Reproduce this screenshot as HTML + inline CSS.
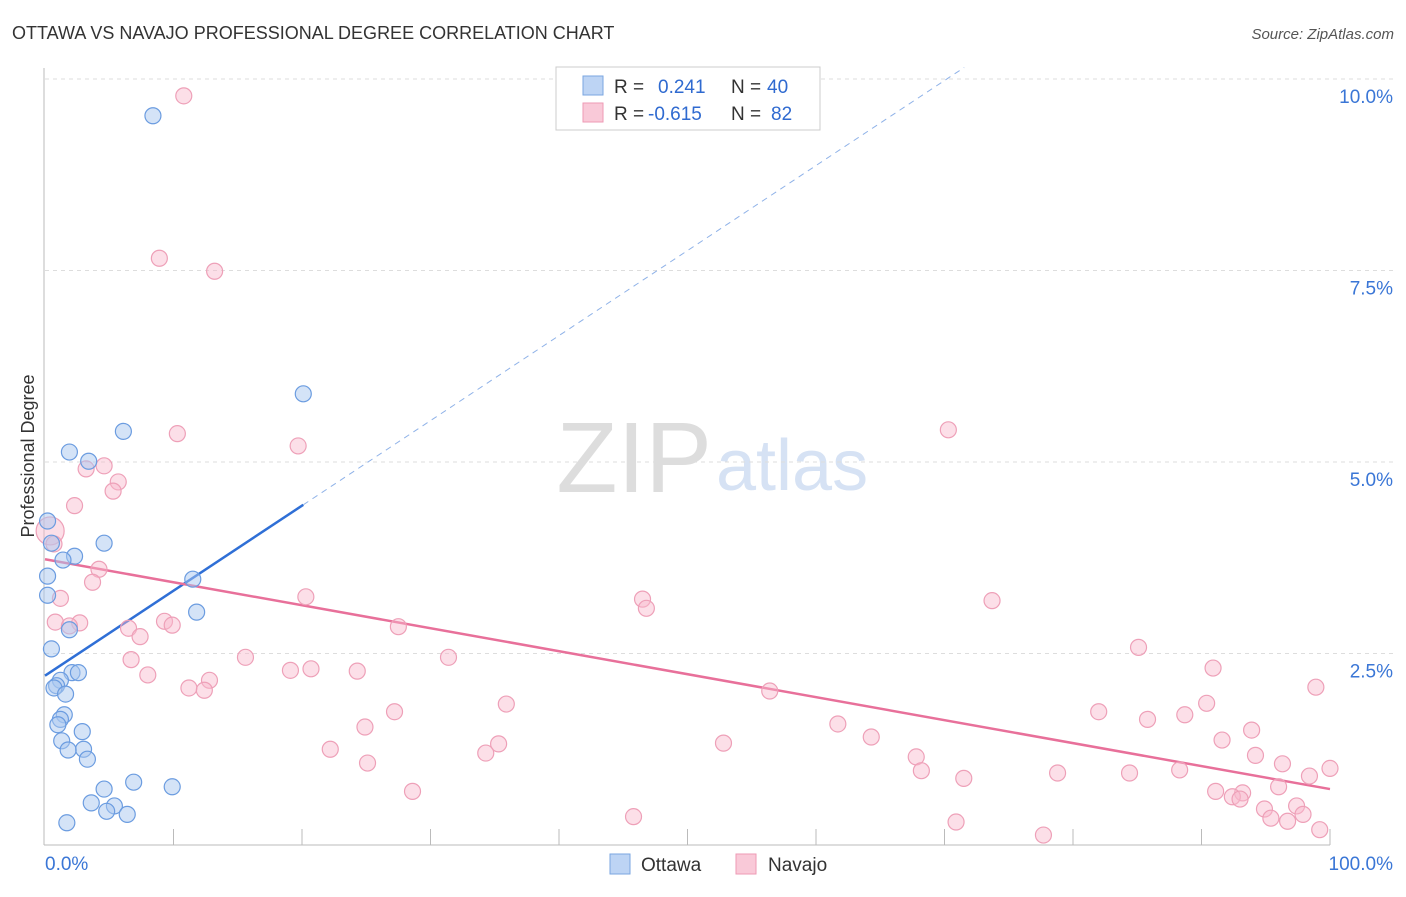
<!DOCTYPE html>
<html><head><meta charset="utf-8"><style>
body{margin:0;background:#fff;font-family:"Liberation Sans",sans-serif;}
svg text{font-family:"Liberation Sans",sans-serif;}
</style></head><body>
<svg id="chart" width="1406" height="892" xmlns="http://www.w3.org/2000/svg">
<text x="12" y="39" font-size="18" fill="#333">OTTAWA VS NAVAJO PROFESSIONAL DEGREE CORRELATION CHART</text>
<text x="1394" y="39" font-size="15" fill="#555" text-anchor="end" font-style="italic">Source: ZipAtlas.com</text>
<text x="712" y="492" font-size="100" fill="#ddd" text-anchor="end" font-family="Liberation Serif">ZIP</text>
<text x="716" y="490" font-size="72" fill="#d6e2f4">atlas</text>
<text transform="translate(34,456) rotate(-90)" font-size="18" fill="#333" text-anchor="middle">Professional Degree</text>
<g id="grid"></g><g id="axes"></g><g id="trends"></g><g id="points"></g>
<g>
<rect x="556" y="67" width="264" height="63" fill="#fff" stroke="#ccc"/>
<rect x="583" y="76" width="20" height="19" fill="#bdd4f4" stroke="#7aa6e0"/>
<rect x="583" y="103" width="20" height="19" fill="#f9c9d8" stroke="#ee9ab4"/>
<text x="614" y="93" font-size="19" fill="#333">R = <tspan fill="#2f6ad0" x="658">0.241</tspan><tspan x="731" fill="#333">N =</tspan><tspan x="767" fill="#2f6ad0">40</tspan></text>
<text x="614" y="120" font-size="19" fill="#333">R = <tspan fill="#2f6ad0" x="648">-0.615</tspan><tspan x="731" fill="#333">N =</tspan><tspan x="771" fill="#2f6ad0">82</tspan></text>
</g>
<g>
<rect x="610" y="854" width="20" height="20" fill="#bdd4f4" stroke="#7aa6e0"/>
<text x="641" y="871" font-size="19" fill="#333">Ottawa</text>
<rect x="736" y="854" width="20" height="20" fill="#f9c9d8" stroke="#ee9ab4"/>
<text x="768" y="871" font-size="19" fill="#333">Navajo</text>
</g>
</svg>
<script>
const yTicks=[2.5,5,7.5,10];
const yTickLabels=["2.5%","5.0%","7.5%","10.0%"];
const xTicks=[10,20,30,40,50,60,70,80,90,100];
const ottawaX=[8.4,20.1,6.1,1.9,3.4,0.2,0.5,4.6,2.3,1.4,0.2,11.5,0.2,11.8,1.9,0.5,2.1,2.6,1.2,0.9,0.7,1.6,1.5,1.2,1.0,2.9,1.3,3.0,1.8,3.3,6.9,9.9,4.6,3.6,5.4,4.8,6.4,1.7];
const ottawaY=[9.52,5.89,5.40,5.13,5.01,4.23,3.94,3.94,3.77,3.72,3.51,3.47,3.26,3.04,2.81,2.56,2.25,2.25,2.15,2.08,2.05,1.97,1.70,1.64,1.57,1.48,1.36,1.25,1.24,1.12,0.82,0.76,0.73,0.55,0.51,0.44,0.40,0.29];
const navajoX=[10.8,8.9,13.2,10.3,70.3,19.7,4.6,3.2,5.7,5.3,2.3,0.4,0.7,4.2,3.7,1.2,20.3,46.5,46.8,73.7,0.8,2.7,1.9,9.3,9.9,6.5,27.5,7.4,85.1,15.6,6.7,31.4,90.9,19.1,20.7,24.3,8.0,12.8,11.2,12.4,56.4,98.9,35.9,90.4,27.2,82.0,85.8,88.7,24.9,61.7,93.9,64.3,91.6,35.3,52.8,22.2,34.3,94.2,67.8,25.1,96.3,68.2,88.3,100.0,71.5,78.8,84.4,98.4,96.0,28.6,91.1,93.2,92.4,93.0,97.4,94.9,97.9,45.8,95.4,96.7,70.9,99.2,77.7];
const navajoY=[9.78,7.66,7.49,5.37,5.42,5.21,4.95,4.91,4.74,4.62,4.43,4.10,3.93,3.60,3.43,3.22,3.24,3.21,3.09,3.19,2.91,2.90,2.86,2.92,2.87,2.83,2.85,2.72,2.58,2.45,2.42,2.45,2.31,2.28,2.30,2.27,2.22,2.15,2.05,2.02,2.01,2.06,1.84,1.85,1.74,1.74,1.64,1.70,1.54,1.58,1.50,1.41,1.37,1.32,1.33,1.25,1.20,1.17,1.15,1.07,1.06,0.97,0.98,1.00,0.87,0.94,0.94,0.90,0.76,0.70,0.70,0.68,0.63,0.60,0.51,0.47,0.40,0.37,0.35,0.31,0.30,0.20,0.13];
const ottawaTrend=[2.21,0.111]; // intercept, slope
const navajoTrend=[3.73,-0.030];
const NS="http://www.w3.org/2000/svg";
const sx=v=>45+v*12.85, sy=v=>845-v*76.6;
function mk(p,t,a){const e=document.createElementNS(NS,t);for(const k in a)e.setAttribute(k,a[k]);p.appendChild(e);return e;}
const grid=document.getElementById('grid'),axes=document.getElementById('axes'),tr=document.getElementById('trends'),pts=document.getElementById('points');
yTicks.forEach((t,i)=>{
 const l=mk(grid,'line',{x1:45,x2:1395,y1:sy(t),y2:sy(t),stroke:'#ddd','stroke-dasharray':'4,4'});
 
 
 const tx=mk(grid,'text',{x:1393,y:sy(t)+24,'font-size':19,fill:'#3a76d6','text-anchor':'end'});
 tx.textContent=yTickLabels[i];
 
 
});
let a=mk(axes,'line',{x1:44,x2:44,y1:68,y2:845,stroke:'#bbb'});


a=mk(axes,'line',{x1:44,x2:1330,y1:845,y2:845,stroke:'#bbb'});


xTicks.forEach(t=>{const l=mk(axes,'line',{x1:sx(t),x2:sx(t),y1:829,y2:845,stroke:'#bbb'});
 
 });
let t0=mk(axes,'text',{x:45,y:870,'font-size':19,fill:'#3a76d6'});t0.textContent='0.0%';


let t1=mk(axes,'text',{x:1393,y:870,'font-size':19,fill:'#3a76d6','text-anchor':'end'});t1.textContent='100.0%';


function drawPts(X,Y,fill,stroke,name){X.forEach((x,i)=>{const r=(name==='navajo-point'&&i===11)?14:8;
 const c=mk(pts,'circle',{cx:sx(x),cy:sy(Y[i]),r:r,fill:fill,stroke:stroke,'stroke-width':1.2});
 
 });}
drawPts(navajoX,navajoY,'rgba(248,185,205,0.45)','#eea0b8','navajo-point');
drawPts(ottawaX,ottawaY,'rgba(170,200,240,0.5)','#6b9ce0','ottawa-point');
const ox=Math.max(...ottawaX), yAt=(tt,x)=>tt[0]+tt[1]*x;
let l=mk(tr,'line',{x1:sx(0),y1:sy(yAt(ottawaTrend,0)),x2:sx(ox),y2:sy(yAt(ottawaTrend,ox)),stroke:'#2f6fd6','stroke-width':2.5});


const xe=(10.15-ottawaTrend[0])/ottawaTrend[1];
l=mk(tr,'line',{x1:sx(ox),y1:sy(yAt(ottawaTrend,ox)),x2:sx(xe),y2:sy(10.15),stroke:'#8fb2e8','stroke-width':1,'stroke-dasharray':'6,5'});


l=mk(tr,'line',{x1:sx(0),y1:sy(yAt(navajoTrend,0)),x2:sx(100),y2:sy(yAt(navajoTrend,100)),stroke:'#e8709a','stroke-width':2.5});


</script>
</body></html>
